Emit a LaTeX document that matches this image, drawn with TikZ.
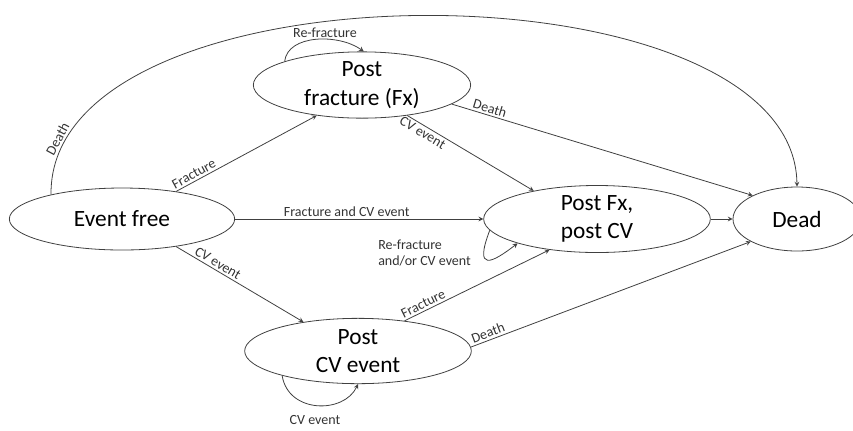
\documentclass[tikz,border=0pt]{standalone}
\usepackage{fontspec}
\setmainfont{Carlito}
\tikzset{
  state/.style={draw=black!75,ellipse,line width=0.6pt,inner sep=0pt,align=center,
    font=\fontsize{17.5}{21.5}\selectfont},
  link/.style={draw=black!75,line width=0.6pt,->},
  lbl/.style={font=\fontsize{10.5}{12.5}\selectfont,text=black!80,inner sep=1.5pt}
}
\usetikzlibrary{shapes.geometric}
\begin{document}
\begin{tikzpicture}[>=stealth,x=0.75pt,y=-0.75pt]
\useasboundingbox (0,0) rectangle (853,430);
%Trang thai
\node[state,minimum width=169pt,minimum height=46.5pt] (free) at (122,219) {Event free};
\node[state,minimum width=163pt,minimum height=49.5pt] (fx) at (362,85) {Post\\fracture (Fx)};
\node[state,minimum width=170pt,minimum height=48pt] (fxcv) at (597,219) {Post Fx,\\post CV};
\node[state,minimum width=96pt,minimum height=48pt] (dead) at (797,219) {Dead};
\node[state,minimum width=170pt,minimum height=49pt] (cv) at (358,351) {Post\\CV event};
%Tu Event free
\draw[link] (free.161) .. controls +(-3,-237) and +(-3,-229) .. (dead.north)
  node[lbl,pos=0.08,sloped,above]{Death};
\draw[link] (free.27)--(fx.214) node[lbl,pos=0.15,sloped,above]{Fracture};
\draw[link] (free.east)--(fxcv.west) node[lbl,pos=0.45,above]{Fracture and CV event};
\draw[link] (free.333)--(cv.152) node[lbl,pos=0.3,sloped,above]{CV event};
%Tu Post fracture
\draw[link] (fx.163) .. controls +(3,-27) and +(-25,-18) .. (fx.87);
\node[lbl] (refx) at (325,33) {Re-fracture};
\draw[link] (fx.326)--(fxcv.156) node[lbl,pos=0.15,sloped,below]{CV event};
\draw[link] (fx.348)--(dead.152) node[lbl,pos=0.12,sloped,above]{Death};
%Tu Post Fx, post CV
\draw[link] (fxcv.186) .. controls +(-16,42) and +(-26,20) .. (fxcv.197);
\node[lbl,anchor=west,align=left] (refxcv) at (376,253) {Re-fracture\\and/or CV event};
\draw[link] (fxcv.east)--(dead.west);
%Tu Post CV event
\draw[link] (cv.198) .. controls +(6,38) and +(-14,30) .. (cv.270);
\node[lbl] (recv) at (315,420) {CV event};
\draw[link] (cv.33)--(fxcv.213) node[lbl,pos=0.15,sloped,above]{Fracture};
\draw[link] (cv.2)--(dead.206) node[lbl,pos=0.07,sloped,above]{Death};
\end{tikzpicture}
\end{document}
